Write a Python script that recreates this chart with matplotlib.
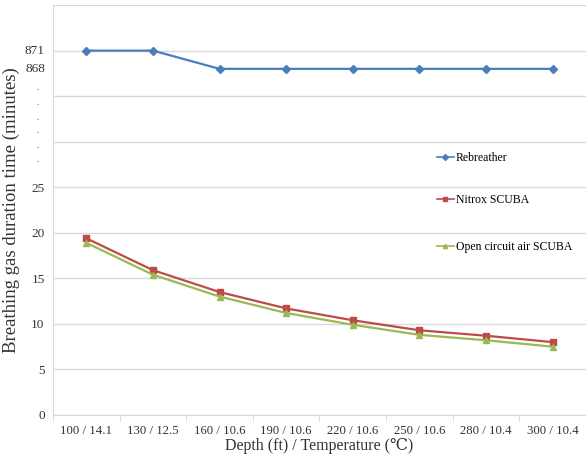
import matplotlib.pyplot as plt

categories = ['100 / 14.1', '130 / 12.5', '160 / 10.6', '190 / 10.6',
              '220 / 10.6', '250 / 10.6', '280 / 10.4', '300 / 10.4']
rebreather = [871, 871, 868, 868, 868, 868, 868, 868]
nitrox = [19.4, 15.9, 13.5, 11.7, 10.4, 9.3, 8.7, 8.0]
open_circuit = [18.9, 15.4, 13.0, 11.2, 9.9, 8.8, 8.2, 7.5]

serif = ['Liberation Serif', 'DejaVu Serif', 'DejaVu Sans']
plt.rcParams['font.family'] = serif


# broken axis: rebreather minutes are drawn in the 35-45 band
def squeeze(v):
    return 40 - (871 - v) * 2 / 3


fig = plt.figure(figsize=(5.86, 4.58), dpi=100)
ax = fig.add_axes([0.0904, 0.0939, 0.9096, 0.895])

x = list(range(len(categories)))
ax.plot(x, [squeeze(v) for v in rebreather], color='#4a7ebb', lw=1.6,
        marker='D', ms=4, label='Rebreather')
ax.plot(x, nitrox, color='#be4b48', lw=1.6, marker='s', ms=4.5,
        label='Nitrox SCUBA')
ax.plot(x, open_circuit, color='#98b954', lw=1.6, marker='^', ms=4.5,
        label='Open circuit air SCUBA')

ax.set_xlim(-0.5, len(categories) - 0.5)
ax.set_ylim(0, 45)
ax.set_yticks(range(0, 50, 5))
ax.set_yticklabels(['0', '5', '10', '15', '20', '25', '', '', '', ''],
                   fontsize=9.5, color='#333333')
ax.tick_params(axis='y', length=0, pad=6)
ax.grid(axis='y', color='#d9d9d9', lw=1)
ax.set_axisbelow(True)

ax.set_xticks(x)
ax.set_xticklabels(categories, fontsize=9.2, color='#333333')
ax.set_xticks([i - 0.5 for i in range(len(categories) + 1)], minor=True)
ax.tick_params(axis='x', which='major', length=0, pad=7)
ax.tick_params(axis='x', which='minor', length=4, color='#d9d9d9')

for s in ['top', 'right']:
    ax.spines[s].set_visible(False)
for s in ['left', 'bottom']:
    ax.spines[s].set_color('#d9d9d9')

# fake labels for the upper band
trans = ax.get_yaxis_transform()
ax.text(-0.015, squeeze(871), '871', transform=trans, ha='right',
        va='center', fontsize=9.5, color='#333333')
ax.text(-0.015, squeeze(868), '868', transform=trans, ha='right',
        va='center', fontsize=9.5, color='#333333')
for yy in [35.9, 34.3, 32.7, 31.2, 29.6, 28.1]:
    ax.text(-0.028, yy, '.', transform=trans, ha='center', va='center',
            fontsize=7, color='#666666')

# legend entries sit one by one on the right
handles, labels = ax.get_legend_handles_labels()
for h, lab, yy in zip(handles, labels, [0.655, 0.563, 0.461]):
    leg = fig.legend([h], [lab], loc='center left', bbox_to_anchor=(0.738, yy),
                     frameon=False, fontsize=8.5, handlelength=1.4,
                     handletextpad=0.2, borderaxespad=0)
    for line in leg.get_lines():
        line.set_markersize(3)
        line.set_linewidth(1.2)

ax.set_ylabel('Breathing gas duration time (minutes)', fontsize=13.5,
              color='#333333', labelpad=8)
ax.set_xlabel('Depth (ft) / Temperature (\u2103)', fontsize=11.5,
              color='#333333', labelpad=1)

fig.savefig('out.png', dpi=100)
